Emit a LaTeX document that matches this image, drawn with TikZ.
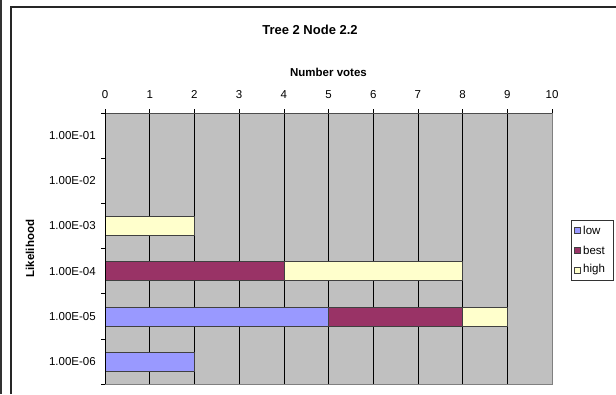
\documentclass[tikz,border=0pt]{standalone}
\usepackage{fontspec}
\setmainfont{Liberation Sans}
\usepackage{tikz}

\definecolor{lowblue}{HTML}{9999FF}
\definecolor{bestplum}{HTML}{993366}
\definecolor{highcream}{HTML}{FFFFCC}
\definecolor{plotgray}{HTML}{C0C0C0}
\definecolor{axisgray}{HTML}{808080}

\tikzset{
  bar/.style={draw=black!75,line width=0.5pt},
  lbl/.style={inner sep=1pt}
}

\begin{document}
\begin{tikzpicture}[x=1pt,y=-1pt,font=\fontsize{11.5}{13}\selectfont]
\useasboundingbox (0,0) rectangle (616,394);

% frame
\draw[line width=1.2pt,black!80] (1,0) -- (1,394);
\draw[line width=1.4pt,black!85] (11,394) -- (11,7) -- (616,7);

\node[lbl] (title) at (310,30) {\fontsize{13}{15}\selectfont\bfseries Tree 2 Node 2.2};

\begin{scope}[shift={(105,113)},x=44.7pt,y=-45.17pt]

\fill[plotgray] (0,0) rectangle (10,6);

\draw[line width=0.6pt] (1,0) -- (1,6);
\draw[line width=0.6pt] (2,0) -- (2,6);
\draw[line width=0.6pt] (3,0) -- (3,6);
\draw[line width=0.6pt] (4,0) -- (4,6);
\draw[line width=0.6pt] (5,0) -- (5,6);
\draw[line width=0.6pt] (6,0) -- (6,6);
\draw[line width=0.6pt] (7,0) -- (7,6);
\draw[line width=0.6pt] (8,0) -- (8,6);
\draw[line width=0.6pt] (9,0) -- (9,6);
\draw[axisgray,line width=1pt] (0,0) rectangle (10,6);

% bars
\draw[bar,fill=highcream] (0,2.29) rectangle (2,2.71);
\draw[bar,fill=bestplum] (0,3.29) rectangle (4,3.71);
\draw[bar,fill=highcream] (4,3.29) rectangle (8,3.71);
\draw[bar,fill=lowblue] (0,4.29) rectangle (5,4.71);
\draw[bar,fill=bestplum] (5,4.29) rectangle (8,4.71);
\draw[bar,fill=highcream] (8,4.29) rectangle (9,4.71);
\draw[bar,fill=lowblue] (0,5.29) rectangle (2,5.71);

% top axis
\draw[black!70,line width=0.8pt] (0,0) -- (10,0);
\draw[line width=0.6pt] (0,0) -- (0,-0.08);
\draw[line width=0.6pt] (1,0) -- (1,-0.08);
\draw[line width=0.6pt] (2,0) -- (2,-0.08);
\draw[line width=0.6pt] (3,0) -- (3,-0.08);
\draw[line width=0.6pt] (4,0) -- (4,-0.08);
\draw[line width=0.6pt] (5,0) -- (5,-0.08);
\draw[line width=0.6pt] (6,0) -- (6,-0.08);
\draw[line width=0.6pt] (7,0) -- (7,-0.08);
\draw[line width=0.6pt] (8,0) -- (8,-0.08);
\draw[line width=0.6pt] (9,0) -- (9,-0.08);
\draw[line width=0.6pt] (10,0) -- (10,-0.08);

% left axis
\draw[line width=0.8pt] (0,0) -- (0,6);
\draw[line width=0.6pt] (0,0) -- (-0.08,0);
\draw[line width=0.6pt] (0,1) -- (-0.08,1);
\draw[line width=0.6pt] (0,2) -- (-0.08,2);
\draw[line width=0.6pt] (0,3) -- (-0.08,3);
\draw[line width=0.6pt] (0,4) -- (-0.08,4);
\draw[line width=0.6pt] (0,5) -- (-0.08,5);
\draw[line width=0.6pt] (0,6) -- (-0.08,6);

\node[lbl] (n0) at (0,-0.4) {0};
\node[lbl] (n1) at (1,-0.4) {1};
\node[lbl] (n2) at (2,-0.4) {2};
\node[lbl] (n3) at (3,-0.4) {3};
\node[lbl] (n4) at (4,-0.4) {4};
\node[lbl] (n5) at (5,-0.4) {5};
\node[lbl] (n6) at (6,-0.4) {6};
\node[lbl] (n7) at (7,-0.4) {7};
\node[lbl] (n8) at (8,-0.4) {8};
\node[lbl] (n9) at (9,-0.4) {9};
\node[lbl] (n10) at (10,-0.4) {10};

\node[lbl,anchor=east] (e1) at (-0.18,0.5) {1.00E-01};
\node[lbl,anchor=east] (e2) at (-0.18,1.5) {1.00E-02};
\node[lbl,anchor=east] (e3) at (-0.18,2.5) {1.00E-03};
\node[lbl,anchor=east] (e4) at (-0.18,3.5) {1.00E-04};
\node[lbl,anchor=east] (e5) at (-0.18,4.5) {1.00E-05};
\node[lbl,anchor=east] (e6) at (-0.18,5.5) {1.00E-06};

\node[lbl] (xtitle) at (5,-0.9) {\bfseries Number votes};
\node[lbl,rotate=90] (ytitle) at (-1.68,3) {\bfseries Likelihood};

\end{scope}

% legend
\draw[black!80,fill=white,line width=0.6pt] (571,220) rectangle (613,280);
\draw[bar,fill=lowblue] (574,227) rectangle (580,233);
\draw[bar,fill=bestplum] (574,247) rectangle (580,253);
\draw[bar,fill=highcream] (574,267) rectangle (580,273);
\node[lbl,anchor=west] (low) at (582,230) {low};
\node[lbl,anchor=west] (best) at (582,250) {best};
\node[lbl,anchor=west] (high) at (582,270) {high};

\end{tikzpicture}
\end{document}
